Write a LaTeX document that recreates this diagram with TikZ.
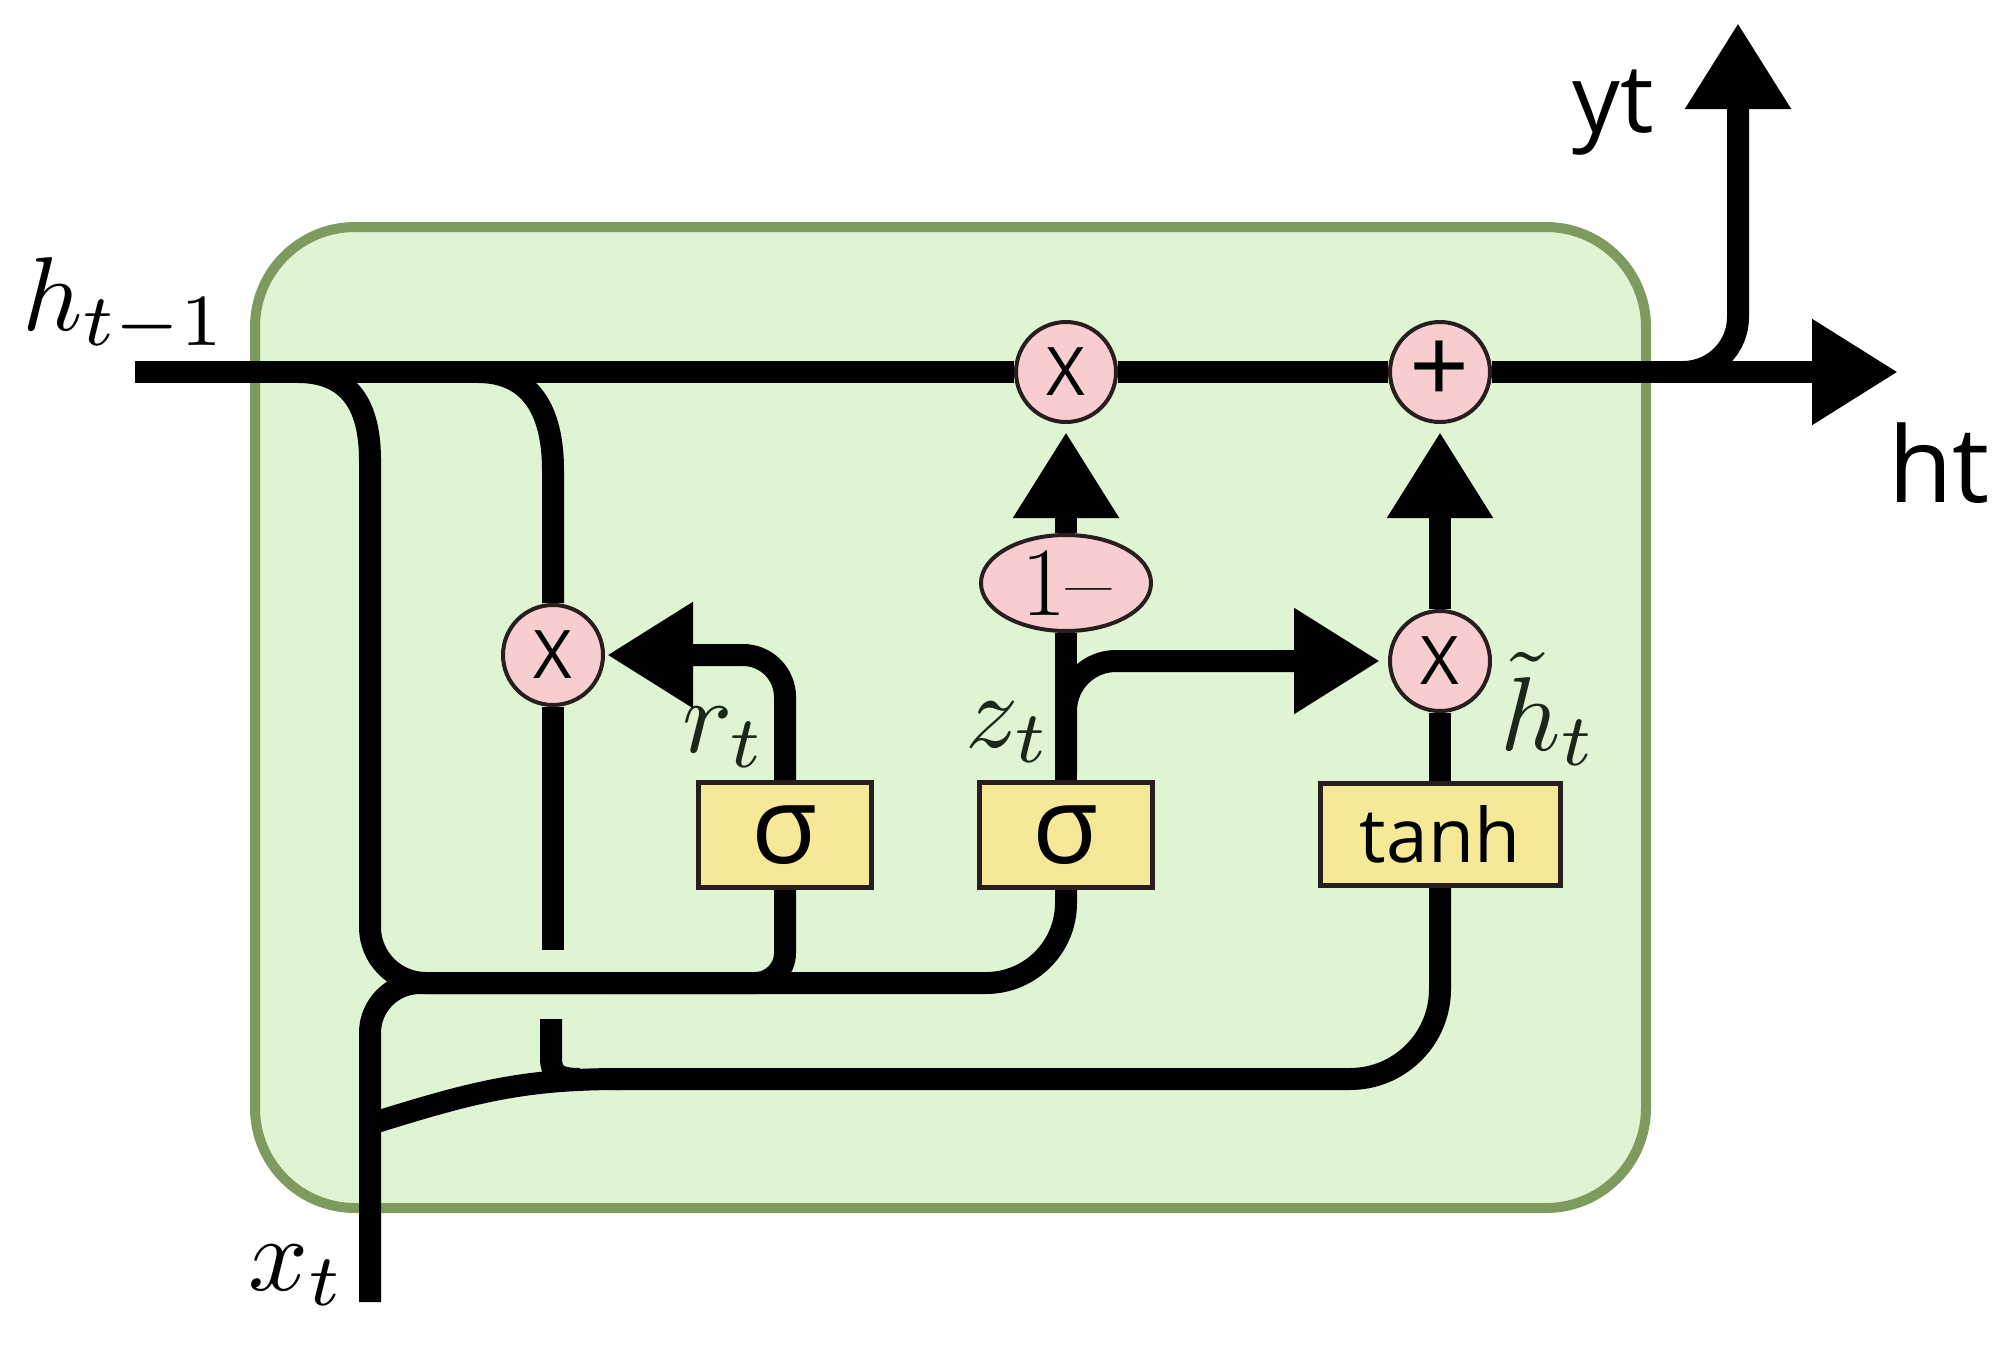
\documentclass[tikz,border=0pt]{standalone}
\usepackage{fontspec}
\usepackage{graphicx}
\newfontfamily\sansf{Open Sans}
\usetikzlibrary{arrows.meta,shapes.geometric}
\definecolor{greenf}{RGB}{223,244,210}
\definecolor{greenb}{RGB}{125,155,95}
\definecolor{pinkf}{RGB}{247,205,208}
\definecolor{yellowf}{RGB}{245,232,150}
\definecolor{darkb}{RGB}{40,30,30}
\definecolor{lblc}{RGB}{25,40,25}
\pgfdeclarelayer{back}
\pgfdeclarelayer{wires}
\pgfsetlayers{back,wires,main}
\newcommand{\grumath}[1]{\scalebox{10.5}{$#1$}}
\begin{document}
\begin{tikzpicture}[x=1pt,y=-1pt,
  wire/.style={line width=22pt, draw=black},
  tip/.style={-{Triangle[length=86pt,width=100pt]}},
  opc/.style={circle, draw=darkb, line width=4pt, fill=pinkf, minimum size=100pt, inner sep=0pt, font=\sansf\fontsize{67}{80}\selectfont},
  gatebox/.style={rectangle, draw=darkb, line width=5pt, fill=yellowf, inner sep=0pt, minimum height=105pt},
  mathlbl/.style={inner sep=0pt, anchor=base west, text=lblc},
  sanslbl/.style={inner sep=0pt, anchor=base west, text=black}
]
\useasboundingbox (0,0) rectangle (2008,1357);
\begin{pgfonlayer}{back}
  \fill[white] (0,0) rectangle (2008,1357);
  \draw[line width=10pt, draw=greenb, fill=greenf, rounded corners=100pt] (255,227) rectangle (1646,1208);
\end{pgfonlayer}

% operation nodes
\node[opc] (mul1) at (1066,372) {X};
\node[opc, font=\sansf\fontsize{105}{120}\selectfont] (add) at (1440,372) {+};
\node[opc] (mul0) at (553,655) {X};
\node[opc] (mul2) at (1440,661) {X};
\node[ellipse, draw=darkb, line width=4pt, fill=pinkf, minimum width=170pt, minimum height=96pt, inner sep=0pt, font=\fontsize{98}{110}\selectfont] (omz) at (1066,583) {1–};
\node[gatebox, minimum width=173pt, font=\sansf\fontsize{108}{120}\selectfont] (sr) at (785,835) {σ};
\node[gatebox, minimum width=173pt, font=\sansf\fontsize{108}{120}\selectfont] (sz) at (1066,835) {σ};
\node[gatebox, minimum width=240pt, minimum height=102pt, font=\sansf\fontsize{75}{90}\selectfont] (th) at (1440,834) {tanh};

% labels
\node[mathlbl, text=black] (lh) at (22,330) {\grumath{h_{t-1}}};
\node[mathlbl, text=black] (lx) at (248,1290) {\grumath{x_t}};
\node[mathlbl] (lr) at (682,752) {\grumath{r_t}};
\node[mathlbl] (lz) at (965,747) {\grumath{z_t}};
\node[mathlbl] (lht) at (1500,750) {\grumath{\tilde{h}_t}};
\node[sanslbl, font=\sansf\fontsize{95}{114}\selectfont] (ly) at (1572,132) {yt};
\node[sanslbl, font=\sansf\fontsize{105}{126}\selectfont] (lho) at (1888,502) {ht};

% free ends and joints
\coordinate (hin) at (135,372);
\coordinate (hout) at (1898,372);
\coordinate (ybr) at (1683,372);
\coordinate (yout) at (1738,23);
\coordinate (brA) at (298,372);
\coordinate (ovt) at (370,458);
\coordinate (brB) at (478,372);
\coordinate (xin) at (370,1302);
\coordinate (catL) at (600,983);
\coordinate (gapT) at (553,950);
\coordinate (gapB) at (551,1019);
\coordinate (xbr) at (370,1124);
\coordinate (tb) at (615,1079);
\coordinate (zbr) at (1066,770);

\begin{pgfonlayer}{wires}
  % cell state line
  \draw[wire, tip] (hin) -- (mul1) -- (add) -- (hout);
  \draw[wire, tip, rounded corners=55pt] (ybr) -| (yout);
  % concatenation of h_{t-1} and x_t
  \draw[wire] (brA) .. controls (345,372) and (370,400) .. (370,460);
  \draw[wire, rounded corners=56pt] (ovt) -- (370,983) -- (catL);
  \draw[wire, rounded corners=50pt] (xin) -- (370,983) -- (catL);
  \draw[wire, rounded corners=80pt] (sz.south) |- (catL);
  \draw[wire, rounded corners=30pt] (sr.south) |- (catL);
  % reset path
  \draw[wire] (brB) .. controls (530,372) and (553,410) .. (553,470) -- (mul0);
  \draw[wire] (mul0) -- (gapT);
  \draw[wire] (gapB) -- (551,1058) .. controls (551,1074) and (558,1079) .. (580,1079);
  \draw[wire] (xbr) .. controls (470,1093) and (520,1079) .. (620,1079);
  \draw[wire, rounded corners=90pt] (tb) -| (th.south);
  \draw[wire, tip, rounded corners=42pt, shorten >=2pt] (sr.north) |- (mul0);
  % update path
  \draw[wire] (sz) -- (omz);
  \draw[wire, tip, shorten >=8pt] (omz) -- (mul1);
  \draw[wire, tip, rounded corners=50pt, shorten >=8pt] (zbr) |- (mul2);
  \draw[wire] (th) -- (mul2);
  \draw[wire, tip, shorten >=8pt] (mul2) -- (add);
\end{pgfonlayer}
\end{tikzpicture}
\end{document}
